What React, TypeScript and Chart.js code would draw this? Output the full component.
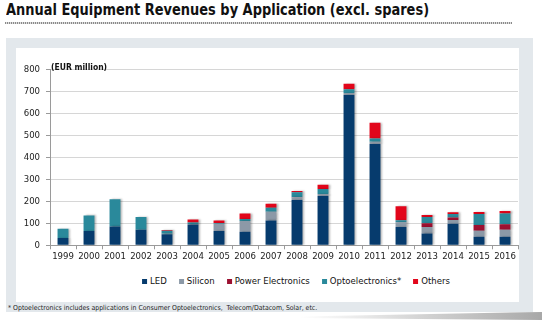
import React, { useEffect, useRef } from "react";
import { Chart, registerables } from "chart.js";

Chart.register(...registerables);

const years = ["1999", "2000", "2001", "2002", "2003", "2004", "2005", "2006", "2007", "2008", "2009", "2010", "2011", "2012", "2013", "2014", "2015", "2016"];
const led = [33, 65, 86, 71, 50, 95, 65, 62, 113, 206, 224, 683, 460, 83, 54, 98, 39, 39];
const silicon = [0, 0, 0, 0, 3, 2, 33, 48, 40, 12, 9, 9, 11, 22, 29, 17, 27, 32];
const powerElectronics = [0, 0, 0, 0, 0, 0, 0, 0, 0, 2, 0, 0, 0, 0, 17, 11, 26, 25];
const optoelectronics = [42, 71, 123, 58, 13, 7, 3, 10, 18, 21, 23, 17, 15, 9, 29, 16, 50, 49];
const others = [0, 0, 0, 0, 4, 13, 12, 24, 18, 6, 19, 25, 71, 63, 9, 8, 9, 11];

const seriesNames = ["LED", "Silicon", "Power Electronics", "Optoelectronics*", "Others"];
const seriesColors = ["#063b6d", "#8c99a7", "#9c1131", "#2a899b", "#e2061b"];
const seriesValues = [led, silicon, powerElectronics, optoelectronics, others];

const yMax = 800;
const yStep = 100;

const FONT = "'DejaVu Sans Condensed', 'DejaVu Sans', sans-serif";

const shadowPlugin = {
  id: "barShadow",
  beforeDatasetsDraw(chart: any) {
    const ctx = chart.ctx;
    ctx.save();
    ctx.shadowColor = "rgba(0,0,0,0.28)";
    ctx.shadowOffsetX = 2;
    ctx.shadowOffsetY = 0;
    ctx.shadowBlur = 2;
  },
  afterDatasetsDraw(chart: any) {
    chart.ctx.restore();
  },
};

function BarChart() {
  const ref = useRef<HTMLCanvasElement | null>(null);
  useEffect(() => {
    if (!ref.current) return;
    const chart = new Chart(ref.current, {
      type: "bar",
      data: {
        labels: years,
        datasets: seriesNames.map((name, i) => ({
          label: name,
          data: seriesValues[i],
          backgroundColor: seriesColors[i],
          borderWidth: 0,
          barPercentage: 0.42,
          categoryPercentage: 1,
        })),
      },
      options: {
        animation: false,
        responsive: true,
        maintainAspectRatio: false,
        layout: { padding: { top: 21.3, bottom: 0, left: 0, right: 1 } },
        plugins: { legend: { display: false }, title: { display: false }, tooltip: { enabled: false } },
        scales: {
          x: {
            stacked: true,
            grid: { display: true, drawOnChartArea: false, drawTicks: true, tickLength: 4, offset: true, color: "#9a9a9a" },
            border: { display: true, color: "#9a9a9a" },
            ticks: { color: "#222", font: { family: FONT, size: 9.5 }, padding: 2, maxRotation: 0, autoSkip: false },
            afterFit: (s: any) => { s.height = 20.7; },
          },
          y: {
            stacked: true,
            min: 0,
            max: yMax,
            grid: { color: "#d6d6d6", tickColor: "#9a9a9a", tickLength: 4, drawTicks: true },
            border: { display: true, color: "#9a9a9a" },
            ticks: { stepSize: yStep, color: "#222", font: { family: FONT, size: 9.5 }, padding: 6 },
            afterFit: (s: any) => { s.width = 34; },
          },
        },
      },
      plugins: [shadowPlugin],
    });
    return () => chart.destroy();
  }, []);
  return <canvas ref={ref} />;
}

export default function App() {
  return (
    <div style={{ position: "fixed", left: 0, top: 0, width: 542, height: 322, background: "#fff", overflow: "hidden", fontFamily: FONT }}>
      <div style={{ position: "absolute", left: 6, top: 0, fontSize: 15.5, fontWeight: "bold", color: "#111", whiteSpace: "nowrap", lineHeight: "20px", transform: "scaleX(0.93)", transformOrigin: "left center" }}>
        Annual Equipment Revenues by Application (excl. spares)
      </div>
      <div style={{ position: "absolute", left: 5, top: 22, width: 507, height: 2, background: "repeating-linear-gradient(90deg, #8a8a8a 0 1px, #dcdcdc 1px 2px)" }} />
      <div style={{ position: "absolute", left: 6, top: 38, width: 527, height: 274, background: "#e3e8ec" }} />
      <div style={{ position: "absolute", left: 16, top: 48, width: 503, height: 254, background: "#fff" }} />
      <div style={{ position: "absolute", left: 16, top: 48, width: 503, height: 218 }}>
        <BarChart />
      </div>
      <div style={{ position: "absolute", left: 51, top: 61, fontSize: 8.5, fontWeight: "bold", color: "#111", whiteSpace: "nowrap", lineHeight: "12px" }}>
        (EUR million)
      </div>
      <div style={{ position: "absolute", left: 296, top: 275, transform: "translateX(-50%)", display: "flex", alignItems: "center", whiteSpace: "nowrap", fontSize: 9.5, color: "#111", lineHeight: "12px" }}>
        {seriesNames.map((n, i) => (
          <div key={n} style={{ display: "flex", alignItems: "center", marginLeft: i === 0 ? 0 : 12 }}>
            <span style={{ display: "inline-block", width: 5, height: 5, background: seriesColors[i], marginRight: 3 }} />
            <span>{n}</span>
          </div>
        ))}
      </div>
      <div style={{ position: "absolute", left: 8, top: 304, fontSize: 6.9, color: "#222", whiteSpace: "nowrap", lineHeight: "9px" }}>
        * Optoelectronics includes applications in Consumer Optoelectronics,&nbsp; Telecom/Datacom, Solar, etc.
      </div>
      <div style={{ position: "absolute", left: 300, top: 312, width: 242, height: 8, background: "linear-gradient(90deg, rgba(160,160,160,0) 0%, #a8a8a8 100%)", clipPath: "polygon(0 55%, 100% 0, 100% 100%, 0 75%)" }} />
    </div>
  );
}
